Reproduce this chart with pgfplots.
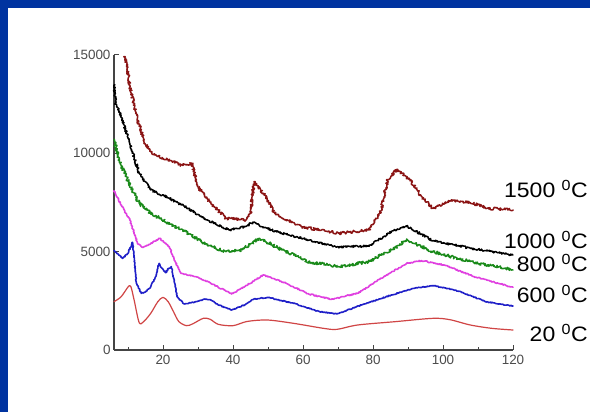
\documentclass[border=0pt]{standalone}
\usepackage{fontspec}
\setmainfont{Liberation Sans}
\newfontfamily\widefont[FakeStretch=1.1]{Liberation Sans}
\usepackage{pgfplots}
\pgfplotsset{compat=1.18}
\usetikzlibrary{decorations.pathmorphing}
\definecolor{frameblue}{HTML}{0033A0}
\definecolor{c1500}{HTML}{8B1414}
\definecolor{c800}{HTML}{1A8A1A}
\definecolor{cmag}{HTML}{E040E0}
\definecolor{cblue}{HTML}{1F1FC8}
\definecolor{c20}{HTML}{D04545}
\definecolor{axisgray}{HTML}{444444}
\begin{document}
\begin{tikzpicture}
\useasboundingbox (0,0) rectangle (590bp,412bp);
\fill[frameblue] (0,0) rectangle (590bp,412bp);
\fill[white] (8bp,0) rectangle (590bp,404bp);
\begin{axis}[at={(114bp,62bp)},anchor=south west,scale only axis,width=399bp,height=295bp,
  xmin=6,xmax=120,ymin=0,ymax=15000,
  axis x line=bottom,axis y line=left,
  axis line style={-,draw=axisgray,line width=1.2bp},
  xtick={20,40,60,80,100,120},minor xtick={10,30,50,70,90,110},
  ytick={0,5000,10000,15000},scaled y ticks=false,
  tick align=inside,major tick length=5bp,minor tick length=3bp,
  tick style={axisgray,line width=1bp},
  /pgf/number format/assume math mode=true,
  /pgf/number format/1000 sep={},
  tick label style={font=\fontsize{13.5}{14}\selectfont,text=black!70},
  xticklabel style={yshift=-2bp},
  every axis plot/.append style={line join=round,line cap=round},
  clip=false]
\addplot[c20,line width=1.2bp,smooth,tension=0.5] coordinates {(6,2458)(8,2700)(10,3200)(10.8,3230)(11.8,2500)(13.2,1390)(14.5,1450)(16.5,1865)(18.5,2450)(20,2678)(21.5,2450)(23,1950)(24.5,1450)(26.7,1237)(28.5,1330)(31.5,1610)(33.5,1560)(35.8,1305)(40,1237)(44,1450)(49.8,1525)(57.3,1356)(65.9,1100)(69.7,1050)(75.6,1271)(86.3,1440)(97.1,1610)(102,1540)(107.8,1271)(114,1100)(120,1017)};
\addplot[cblue,line width=1.6bp,decorate,decoration={random steps,segment length=1bp,amplitude=0.5bp}] coordinates {(6,5051)(7,4900)(8.4,4661)(10,4915)(11,5350)(11.3,5475)(11.8,4600)(12.4,3390)(13.8,2882)(15,2950)(16.5,3220)(17.8,3700)(18.9,4407)(19.5,4200)(20.8,3932)(21.6,4150)(22.4,4238)(23,3700)(24,2712)(26.1,2339)(28,2400)(29.4,2458)(32,2593)(33.5,2560)(35.8,2288)(39.6,2034)(43.3,2288)(46,2593)(49.8,2678)(57.3,2373)(64.8,1949)(69.7,1830)(76.7,2288)(85.3,2797)(91.7,3136)(97.1,3271)(103.5,3051)(112.2,2458)(120,2237)};
\addplot[cmag,line width=1.6bp,decorate,decoration={random steps,segment length=1bp,amplitude=0.6bp}] coordinates {(6,8102)(7.8,7458)(10.5,6610)(11.7,6000)(12.7,5424)(14.3,5220)(16.5,5424)(19.1,5678)(21.8,5254)(23.5,4500)(25.1,3898)(29.4,3729)(33.7,3390)(39.6,2848)(43.3,3220)(48.7,3814)(55.2,3390)(61.6,2848)(68.1,2576)(75.6,2882)(83.1,3729)(89.6,4407)(93.9,4543)(100.3,4322)(108.9,3729)(120,3187)};
\addplot[c800,line width=1.5bp,decorate,decoration={random steps,segment length=0.8bp,amplitude=1.5bp}] coordinates {(6,10678)(7.8,9492)(10.5,8390)(13.2,7458)(16.5,6950)(21.8,6441)(27.2,5932)(32.6,5339)(38,5000)(42.3,5085)(47.6,5678)(54.1,5085)(61.6,4492)(70.2,4238)(78.8,4492)(85.3,5085)(89.6,5593)(97.1,5000)(107.8,4492)(120,4068)};
\addplot[black,line width=1.5bp,decorate,decoration={random steps,segment length=0.8bp,amplitude=1.1bp}] coordinates {(6,13475)(6.5,12500)(7.8,12035)(10.5,10509)(13.2,8984)(16.5,8136)(21.8,7712)(27.2,7204)(32.6,6610)(39,6102)(43.3,6271)(45.7,6475)(50.9,6102)(59.5,5678)(70.2,5220)(78.8,5288)(85.3,6017)(89.6,6305)(97.1,5560)(107.8,5170)(120,4831)};
\addplot[c1500,line width=1.5bp,decorate,decoration={random steps,segment length=0.8bp,amplitude=1.4bp}] coordinates {(9.2,14915)(10.5,13475)(12.2,12035)(14.8,10509)(17.5,9916)(21.8,9661)(25.1,9407)(28.3,9492)(29.9,8305)(33.7,7458)(38,6695)(43.3,6610)(45,6949)(46,8560)(48.7,7966)(51.9,6949)(59.5,6271)(70.2,5932)(78.8,6102)(82,6949)(84.2,8644)(86.9,9187)(90.6,8644)(93.9,7797)(97.1,7204)(102.5,7627)(107.8,7492)(113.2,7204)(120,7119)};
\end{axis}
\begin{scope}[every node/.style={anchor=base east,inner sep=0pt,font=\widefont\fontsize{21}{22}\selectfont}]
\node at (588bp,214bp) {1500 \textsuperscript{0}C};
\node at (588bp,163bp) {1000 \textsuperscript{0}C};
\node at (588bp,140bp) {800 \textsuperscript{0}C};
\node at (588bp,109bp) {600 \textsuperscript{0}C};
\node at (588bp,70bp) {20 \textsuperscript{0}C};
\end{scope}
\end{tikzpicture}
\end{document}
